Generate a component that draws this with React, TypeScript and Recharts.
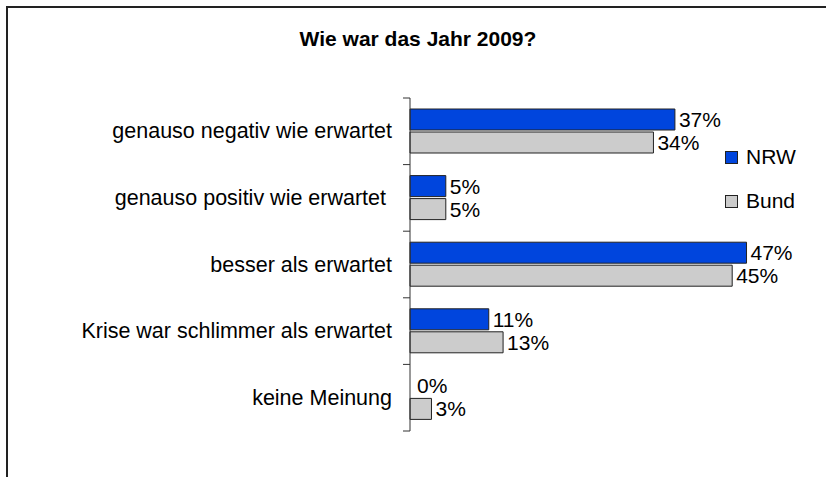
import React from 'react';
import { BarChart, Bar, XAxis, YAxis, LabelList, Rectangle } from 'recharts';

const categories = [
  'genauso negativ wie erwartet',
  'genauso positiv wie erwartet ',
  'besser als erwartet',
  'Krise war schlimmer als erwartet',
  'keine Meinung',
];
const nrwValues = [37, 5, 47, 11, 0];
const bundValues = [34, 5, 45, 13, 3];
const seriesNames = ['NRW', 'Bund'];
const title = 'Wie war das Jahr 2009?';

const data = categories.map((c, i) => ({ category: c, NRW: nrwValues[i], Bund: bundValues[i] }));

const FONT = '"Liberation Sans", Arial, sans-serif';
const W = 826;
const H = 477;
const MARGIN = { top: 98, right: 58, bottom: 46, left: 0 };
const AXIS_W = 410;
const PLOT_H = H - MARGIN.top - MARGIN.bottom;
const BAND = PLOT_H / categories.length;
const BLUE = '#0045DD';
const GRAY = '#CCCCCC';
const seriesColors = [BLUE, GRAY];

const CategoryTick = (props: any) => {
  const { x, y, payload, index } = props;
  const half = BAND / 2;
  return (
    <g>
      <line x1={x - 7} x2={x} y1={y - half} y2={y - half} stroke="#333" strokeWidth={1} />
      {index === categories.length - 1 && (
        <line x1={x - 7} x2={x} y1={y + half} y2={y + half} stroke="#333" strokeWidth={1} />
      )}
      <text
        x={x - 18}
        y={y}
        textAnchor="end"
        dominantBaseline="central"
        fontSize={21.5}
        fontFamily={FONT}
        fill="#000"
        style={{ whiteSpace: 'pre' }}
      >
        {payload.value}
      </text>
    </g>
  );
};

const ValueLabel = (props: any) => {
  const { x, y, width, height, value } = props;
  if (value === undefined || value === null) return null;
  return (
    <text
      x={Number(x) + Number(width || 0) + 4}
      y={Number(y) + Number(height) / 2}
      dominantBaseline="central"
      textAnchor="start"
      fontSize={21}
      fontFamily={FONT}
      fill="#000"
    >
      {`${value}%`}
    </text>
  );
};

const makeShape = (key: string) => (p: any) =>
  p.payload && p.payload[key] > 0 ? <Rectangle {...p} /> : <g />;

export default function App() {
  return (
    <div style={{ position: 'absolute', left: 0, top: 0, width: W, height: H, background: '#fff' }}>
      <div
        style={{
          position: 'absolute',
          left: 6,
          top: 6,
          width: W - 6,
          height: H - 6,
          borderTop: '2px solid #222',
          borderLeft: '2px solid #222',
          boxSizing: 'border-box',
        }}
      />
      <div
        style={{
          position: 'absolute',
          left: 0,
          width: 836,
          top: 27,
          textAlign: 'center',
          fontFamily: FONT,
          fontWeight: 'bold',
          fontSize: 21,
          color: '#000',
        }}
      >
        {title}
      </div>
      <div style={{ position: 'absolute', left: 0, top: 0 }}>
        <BarChart
          width={W}
          height={H}
          data={data}
          layout="vertical"
          margin={MARGIN}
          barSize={21}
          barGap={2}
        >
          <XAxis type="number" domain={[0, 50]} hide />
          <YAxis
            type="category"
            dataKey="category"
            width={AXIS_W}
            axisLine={{ stroke: '#333', strokeWidth: 1 }}
            tickLine={false}
            tickSize={0}
            tickMargin={0}
            tick={<CategoryTick />}
            interval={0}
          />
          <Bar
            dataKey="NRW"
            fill={BLUE}
            stroke="#222"
            strokeWidth={1}
            minPointSize={3}
            shape={makeShape('NRW')}
            isAnimationActive={false}
          >
            <LabelList dataKey="NRW" content={<ValueLabel />} />
          </Bar>
          <Bar
            dataKey="Bund"
            fill={GRAY}
            stroke="#222"
            strokeWidth={1}
            minPointSize={3}
            shape={makeShape('Bund')}
            isAnimationActive={false}
          >
            <LabelList dataKey="Bund" content={<ValueLabel />} />
          </Bar>
        </BarChart>
      </div>
      <div style={{ position: 'absolute', left: 725, top: 146, fontFamily: FONT, fontSize: 21, color: '#000' }}>
        {seriesNames.map((n, i) => (
          <div key={n} style={{ display: 'flex', alignItems: 'center', height: 22, marginBottom: i === 0 ? 22 : 0 }}>
            <span
              style={{
                display: 'inline-block',
                width: 11,
                height: 11,
                background: seriesColors[i],
                border: '1px solid #222',
                marginRight: 8,
              }}
            />
            <span>{n}</span>
          </div>
        ))}
      </div>
    </div>
  );
}
